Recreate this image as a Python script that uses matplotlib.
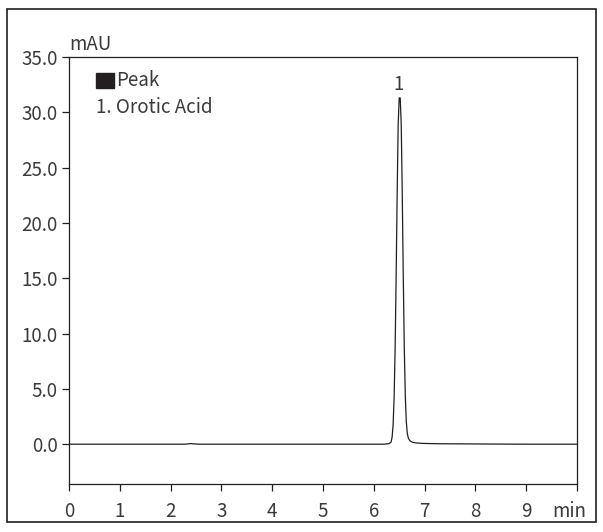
import numpy as np
import matplotlib
matplotlib.use("Agg")
import matplotlib.pyplot as plt
from matplotlib.patches import Rectangle

plt.rcParams['font.family'] = ['Noto Sans CJK JP', 'DejaVu Sans']

# chromatogram trace (time in min, signal in mAU)
time = [0.0, 1.0, 2.0, 2.30, 2.36, 2.40, 2.46, 2.55, 4.0, 5.5, 6.20, 6.30,
        6.34, 6.36, 6.38, 6.40, 6.42, 6.44, 6.46, 6.48, 6.50, 6.52, 6.54,
        6.56, 6.58, 6.60, 6.62, 6.64, 6.66, 6.68, 6.70, 6.72, 6.76, 6.82,
        6.95, 7.3, 8.0, 9.0, 10.0]
signal = [0.0, 0.0, 0.0, 0.0, 0.04, 0.05, 0.03, 0.0, 0.0, 0.0, 0.0, 0.05,
          0.2, 0.62, 1.75, 4.2, 8.7, 15.2, 22.7, 28.9, 31.3, 31.3, 28.9,
          22.7, 15.2, 8.7, 4.4, 2.0, 0.95, 0.55, 0.38, 0.28, 0.18, 0.12,
          0.07, 0.04, 0.02, 0.0, 0.0]

yticks = [0, 5, 10, 15, 20, 25, 30, 35]
xticks = [0, 1, 2, 3, 4, 5, 6, 7, 8, 9, 10]
peak_time = 6.52
peak_height = 31.3

ink = '#231f20'
txt = '#3a3a3a'
fig = plt.figure(figsize=(6.03, 5.32), dpi=100)
ax = fig.add_axes([0.1144, 0.0902, 0.8425, 0.8027])

ax.plot(time, signal, color=ink, lw=0.9)

ax.set_xlim(0, 10)
ax.set_ylim(-3.6, 35)
ax.set_yticks(yticks)
ax.set_yticklabels(['%.1f' % v for v in yticks])
ax.set_xticks(xticks)
ax.set_xticklabels([str(v) for v in xticks[:-1]] + [''])
ax.tick_params(axis='both', direction='out', length=5, width=0.9, color=ink,
               labelsize=13.5, labelcolor=txt)
ax.tick_params(axis='x', pad=7)
ax.tick_params(axis='y', pad=3)
for s in ax.spines.values():
    s.set_color(ink)
    s.set_linewidth(0.9)

ax.text(9.85, -5.1, 'min', ha='center', va='top', fontsize=13.5, color=txt)
ax.text(0.0, 35.2, 'mAU', ha='left', va='bottom', fontsize=13.5, color=txt)

# peak label
ax.text(peak_time - 0.04, peak_height + 0.3, '1', ha='center', va='bottom',
        fontsize=13.5, color=txt)

# legend-like note
ax.add_patch(Rectangle((0.53, 32.2), 0.35, 1.35, color=ink, clip_on=False))
ax.text(0.92, 32.9, 'Peak', ha='left', va='center', fontsize=13.5, color=txt)
ax.text(0.53, 30.4, '1. Orotic Acid', ha='left', va='center', fontsize=13.5,
        color=txt)

# outer frame
fig.add_artist(Rectangle((7 / 603, 1 - 522 / 532), 589 / 603, 513 / 532,
                         transform=fig.transFigure, fill=False,
                         edgecolor=ink, lw=1.2))

fig.savefig('out.png', dpi=100)
